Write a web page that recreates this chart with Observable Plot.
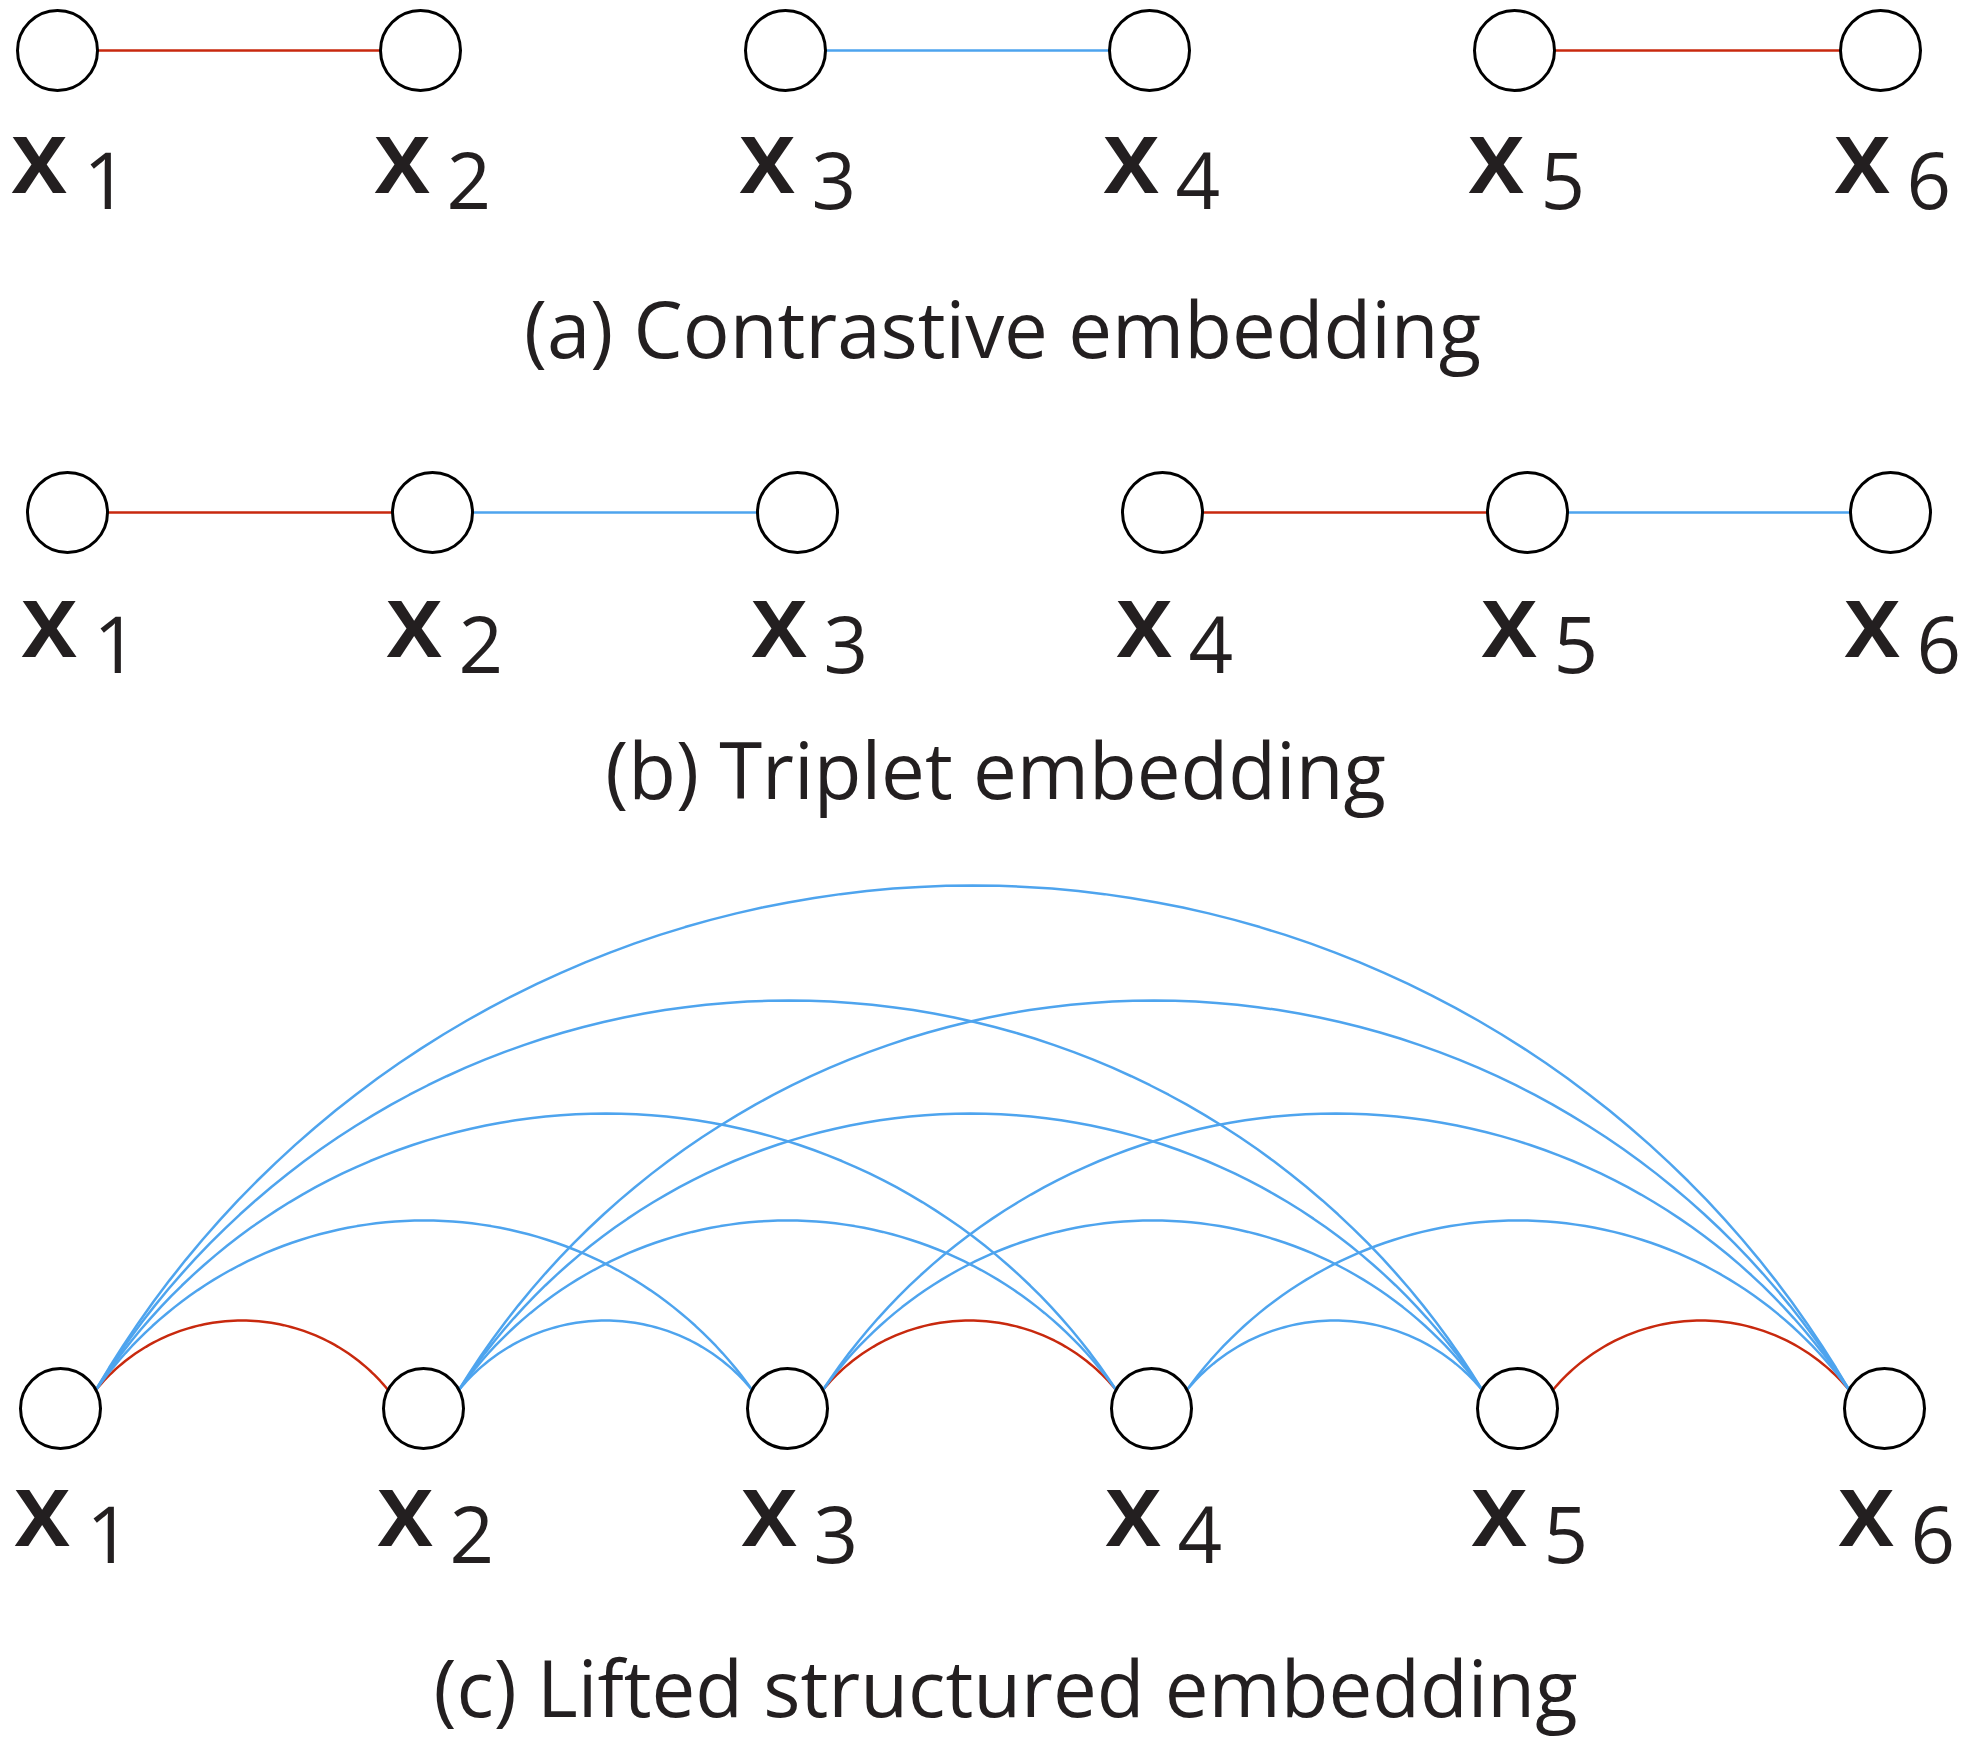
<!DOCTYPE html>
<html><head><meta charset="utf-8">
<script src="https://cdn.jsdelivr.net/npm/d3@7"></script>
<script src="https://cdn.jsdelivr.net/npm/@observablehq/plot@0.6"></script>
<style>body{margin:0;background:#fff}</style>
</head><body><div id="chart"></div>
<script>
// ---------- data ----------
const RED = "#c8290e", BLUE = "#4ea4ee";
const rowA = { y: 50, xs: [57, 420, 785, 1149, 1514, 1880], labelY: 192, subY: 208 };
const rowB = { y: 512, xs: [67, 432, 797, 1162, 1527, 1890], labelY: 656, subY: 672 };
const rowC = { y: 1408, xs: [60, 423, 787, 1151, 1517, 1884], labelY: 1545, subY: 1562 };
const rows = [rowA, rowB, rowC];

const edgesA = [[0,1,RED],[2,3,BLUE],[4,5,RED]];
const edgesB = [[0,1,RED],[1,2,BLUE],[3,4,RED],[4,5,BLUE]];
// lifted: [from, to, color]
const edgesC = [
  [0,1,RED],[2,3,RED],[4,5,RED],
  [0,2,BLUE],[0,3,BLUE],[0,4,BLUE],[0,5,BLUE],
  [1,2,BLUE],[1,3,BLUE],[1,4,BLUE],[1,5,BLUE],
  [2,4,BLUE],[2,5,BLUE],[3,4,BLUE],[3,5,BLUE]
];
const arcHeights = [0, 70, 170, 277, 390, 505]; // by span
const arcBaseY = 1390, arcInset = 35;

const captions = [
  { text: "(a) Contrastive embedding", x: 1002, y: 357 },
  { text: "(b) Triplet embedding", x: 995, y: 798 },
  { text: "(c) Lifted structured embedding", x: 1005, y: 1716 }
];

// ---------- build ----------
const straight = [];
[[rowA, edgesA], [rowB, edgesB]].forEach(([r, es], k) => {
  es.forEach(([a, b, c], i) => {
    straight.push({ id: `s${k}-${i}`, x: r.xs[a], y: r.y, c });
    straight.push({ id: `s${k}-${i}`, x: r.xs[b], y: r.y, c });
  });
});

const arcs = [];
edgesC.forEach(([a, b, c], i) => {
  const x0 = rowC.xs[a] + arcInset, x1 = rowC.xs[b] - arcInset;
  const half = (x1 - x0) / 2, mid = (x0 + x1) / 2, h = arcHeights[b - a];
  const R = (half * half + h * h) / (2 * h);
  const cy = arcBaseY - h + R;
  const t0 = Math.asin(half / R);
  const n = 80;
  for (let k = 0; k <= n; k++) {
    const t = -t0 + (2 * t0 * k) / n;
    arcs.push({ id: i, x: mid + R * Math.sin(t), y: cy - R * Math.cos(t), c });
  }
});

const nodes = rows.flatMap(r => r.xs.map((x, i) => ({ x, y: r.y, i })));
const labels = rows.flatMap(r => r.xs.map((x, i) => ({ x, y: r.labelY, sy: r.subY, i })));

const fig = Plot.plot({
  width: 1969, height: 1744, margin: 0,
  x: { domain: [0, 1969], axis: null },
  y: { domain: [0, 1744], reverse: true, axis: null },
  style: { fontFamily: "Open Sans", color: "#231f20" },
  marks: [
    Plot.line(straight, { x: "x", y: "y", z: "id", stroke: d => d.c, strokeWidth: 2.5 }),
    Plot.line(arcs, { x: "x", y: "y", z: "id", stroke: d => d.c, strokeWidth: 2.5 }),
    Plot.dot(nodes, { x: "x", y: "y", r: 40, stroke: "black", strokeWidth: 3, fill: "white" }),
    Plot.text(labels, { x: "x", y: "y", text: () => "x", dx: -47, fontSize: 104, fontWeight: 600, textAnchor: "start", lineAnchor: "bottom", fill: "#231f20" }),
    Plot.text(labels, { x: "x", y: "sy", text: d => String(d.i + 1), dx: 26, fontSize: 78, textAnchor: "start", lineAnchor: "bottom", fill: "#231f20" }),
    Plot.text(captions, { x: "x", y: "y", text: "text", fontSize: 78, lineAnchor: "bottom", fill: "#231f20" })
  ]
});
document.getElementById("chart").appendChild(fig);
</script></body></html>
